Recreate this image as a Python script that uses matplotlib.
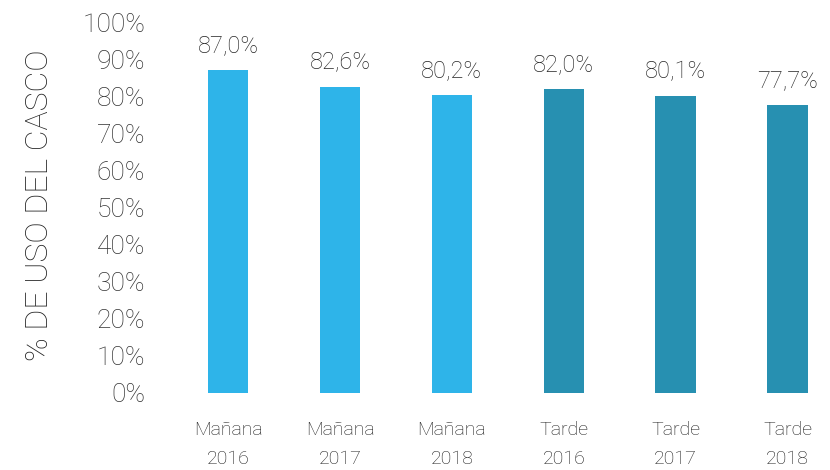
import matplotlib.pyplot as plt
import numpy as np

# Data
turnos = ['Mañana', 'Mañana', 'Mañana', 'Tarde', 'Tarde', 'Tarde']
anios = ['2016', '2017', '2018', '2016', '2017', '2018']
uso_casco = [87.0, 82.6, 80.2, 82.0, 80.1, 77.7]
colores = ['#2eb4e9', '#2eb4e9', '#2eb4e9', '#2790b1', '#2790b1', '#2790b1']

plt.rcParams['font.family'] = ['Roboto', 'DejaVu Sans']
plt.rcParams['font.weight'] = 'light'

fig = plt.figure(figsize=(8.3, 4.7), dpi=100)
ax = fig.add_axes([170 / 830, 77 / 470, 660 / 830, 371 / 470])

x = np.arange(len(uso_casco))
valores = np.array(uso_casco) / 100
bars = ax.bar(x, valores, width=0.36, color=colores)

for bar, v in zip(bars, uso_casco):
    ax.text(bar.get_x() + bar.get_width() / 2, bar.get_height() + 0.035,
            f'{v:.1f}%'.replace('.', ','), ha='center', va='bottom',
            fontsize=17, color='#262626')

ax.set_xlim(-0.52, 5.38)
ax.set_ylim(0, 1)
ticks = np.arange(0, 1.01, 0.1)
ax.set_yticks(ticks)
ax.set_yticklabels([f'{int(round(t * 100))}%' for t in ticks],
                   fontsize=19, color='#333333')
ax.set_xticks(x)
ax.set_xticklabels([f'{t}\n{a}' for t, a in zip(turnos, anios)],
                   fontsize=14, color='#1a1a1a', linespacing=1.8)
ax.tick_params(axis='both', length=0)
ax.tick_params(axis='y', pad=18)
ax.tick_params(axis='x', pad=20)

for s in ax.spines.values():
    s.set_visible(False)

fig.text(40 / 830, 1 - 205 / 470, '% DE USO DEL CASCO', rotation=90, ha='center', va='center',
         fontsize=23, color='#262626')

plt.savefig('out.png', dpi=100)
